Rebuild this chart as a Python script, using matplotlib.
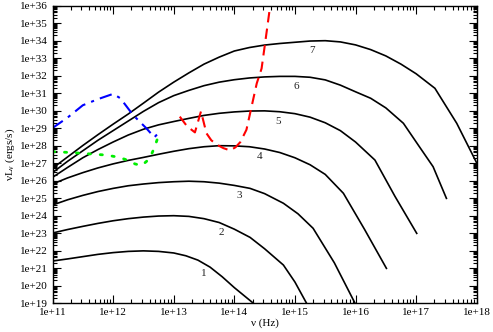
import numpy as np
import matplotlib
matplotlib.use('Agg')
import matplotlib.pyplot as plt
from matplotlib.ticker import FuncFormatter, LogLocator

plt.rcParams['font.family'] = ['Liberation Serif', 'DejaVu Serif']
plt.rcParams['mathtext.fontset'] = 'custom'
plt.rcParams['mathtext.rm'] = 'Liberation Serif'

# log10(nu [Hz]) and log10(nu L_nu [erg/s])
c1_x = [11.0, 11.25, 11.5, 11.75, 12.0, 12.25, 12.5, 12.75, 13.0, 13.2, 13.4, 13.6, 13.8, 14.0, 14.31]
c1_y = [21.4, 21.52, 21.65, 21.78, 21.88, 21.95, 21.98, 21.95, 21.86, 21.7, 21.45, 21.05, 20.5, 19.88, 19.0]
c2_x = [11.0, 11.25, 11.5, 11.75, 12.0, 12.25, 12.5, 12.75, 13.0, 13.25, 13.5, 13.75, 14.0, 14.26, 14.5, 14.81, 15.0, 15.19]
c2_y = [23.0, 23.2, 23.38, 23.55, 23.7, 23.82, 23.91, 23.97, 23.99, 23.95, 23.82, 23.6, 23.22, 22.75, 22.1, 21.17, 20.2, 19.0]
c3_x = [11.0, 11.25, 11.5, 11.75, 12.0, 12.25, 12.5, 12.75, 13.0, 13.25, 13.5, 13.75, 14.0, 14.26, 14.5, 14.81, 15.05, 15.3, 15.65, 15.99]
c3_y = [24.6, 24.9, 25.15, 25.37, 25.55, 25.7, 25.8, 25.88, 25.93, 25.96, 25.93, 25.85, 25.72, 25.55, 25.25, 24.7, 24.1, 23.27, 21.3, 19.0]
c4_x = [11.0, 11.25, 11.5, 11.75, 12.0, 12.25, 12.5, 12.75, 13.0, 13.25, 13.5, 13.75, 14.0, 14.25, 14.5, 14.75, 15.0, 15.25, 15.5, 15.8, 16.15, 16.51]
c4_y = [25.8, 26.15, 26.45, 26.72, 26.95, 27.15, 27.32, 27.5, 27.67, 27.82, 27.93, 27.99, 27.98, 27.93, 27.8, 27.6, 27.3, 26.9, 26.35, 25.27, 23.2, 20.98]
c5_x = [11.0, 11.25, 11.5, 11.75, 12.0, 12.25, 12.5, 12.75, 13.0, 13.25, 13.5, 13.75, 14.0, 14.25, 14.5, 14.75, 15.0, 15.25, 15.5, 15.75, 16.0, 16.32, 16.65, 17.01]
c5_y = [26.18, 26.75, 27.3, 27.77, 28.2, 28.6, 28.93, 29.18, 29.37, 29.55, 29.72, 29.84, 29.92, 29.97, 29.98, 29.93, 29.82, 29.62, 29.3, 28.85, 28.2, 27.17, 25.1, 22.98]
c6_x = [11.0, 11.25, 11.5, 11.75, 12.0, 12.25, 12.5, 12.75, 13.0, 13.25, 13.5, 13.75, 14.0, 14.25, 14.5, 14.75, 15.0, 15.25, 15.5, 15.75, 16.0, 16.25, 16.5, 16.79, 17.05, 17.28, 17.5]
c6_y = [26.45, 27.1, 27.7, 28.3, 28.85, 29.4, 29.95, 30.45, 30.85, 31.15, 31.42, 31.62, 31.76, 31.86, 31.92, 31.95, 31.95, 31.9, 31.75, 31.45, 31.07, 30.7, 30.15, 29.27, 27.95, 26.79, 24.98]
c7_x = [11.0, 11.25, 11.5, 11.75, 12.0, 12.25, 12.5, 12.75, 13.0, 13.25, 13.5, 13.75, 14.0, 14.25, 14.5, 14.75, 15.0, 15.25, 15.5, 15.75, 16.0, 16.25, 16.5, 16.75, 17.0, 17.31, 17.67, 18.0]
c7_y = [26.7, 27.35, 28.0, 28.62, 29.22, 29.8, 30.42, 31.05, 31.62, 32.15, 32.65, 33.05, 33.4, 33.6, 33.74, 33.83, 33.9, 33.97, 33.99, 33.92, 33.75, 33.48, 33.12, 32.65, 32.1, 31.27, 29.27, 27.0]

blue_x = [11.0, 11.25, 11.5, 11.75, 12.0, 12.12, 12.33, 12.55, 12.68, 12.77]
blue_y = [29.0, 29.6, 30.3, 30.65, 30.95, 30.7, 29.74, 28.98, 28.47, 28.79]
green_x = [11.0, 11.3, 11.62, 11.9, 12.1, 12.25, 12.36, 12.47, 12.57, 12.64, 12.69, 12.77]
green_y = [27.65, 27.6, 27.52, 27.45, 27.32, 27.15, 26.95, 26.85, 27.15, 27.55, 27.95, 28.8]
red_x = [13.1, 13.22, 13.35, 13.45, 13.54, 13.62, 13.71, 13.82, 13.93, 14.02, 14.1, 14.2, 14.29, 14.37, 14.45, 14.51, 14.6]
red_y = [29.65, 29.1, 28.75, 29.95, 28.7, 28.3, 28.05, 27.85, 27.72, 27.9, 28.2, 28.9, 30.3, 31.55, 32.4, 33.9, 36.2]

curve_labels = ['1', '2', '3', '4', '5', '6', '7']
label_x = [13.5, 13.78, 14.08, 14.41, 14.73, 15.03, 15.29]
label_y = [20.66, 23.02, 25.17, 27.36, 29.36, 31.4, 33.42]

fig = plt.figure(figsize=(4.93, 3.32), dpi=100)
ax = fig.add_axes([0.1065, 0.0873, 0.8605, 0.8961])

curves = [(c1_x, c1_y), (c2_x, c2_y), (c3_x, c3_y), (c4_x, c4_y),
          (c5_x, c5_y), (c6_x, c6_y), (c7_x, c7_y)]
for cx, cy in curves:
    ax.plot(10**np.array(cx), 10**np.array(cy), color='black', lw=1.2)

ax.plot(10**np.array(blue_x), 10**np.array(blue_y), color='#0000ff', lw=1.5,
        linestyle=(0, (6, 3, 1.5, 3)))
ax.plot(10**np.array(green_x), 10**np.array(green_y), color='#00ee00', lw=2.0,
        linestyle=(0, (0.8, 3.5)), dash_capstyle='round')
ax.plot(10**np.array(red_x), 10**np.array(red_y), color='#ff0000', lw=1.5,
        linestyle=(0, (5, 3)))

for t, lx, ly in zip(curve_labels, label_x, label_y):
    ax.text(10**lx, 10**ly, t, fontsize=8, color='#222222', ha='center', va='center')

ax.set_xscale('log')
ax.set_yscale('log')
ax.set_xlim(1e11, 1e18)
ax.set_ylim(1e19, 1e36)

ax.xaxis.set_major_locator(LogLocator(base=10, numticks=20))
ax.yaxis.set_major_locator(LogLocator(base=10, numticks=40))
ax.xaxis.set_minor_locator(LogLocator(base=10, subs=np.arange(2, 10), numticks=20))
ax.yaxis.set_minor_locator(LogLocator(base=10, subs=np.arange(2, 10), numticks=40))
fmt = FuncFormatter(lambda v, p: '1e+%d' % int(round(np.log10(v))))
ax.xaxis.set_major_formatter(fmt)
ax.yaxis.set_major_formatter(fmt)

ax.tick_params(which='both', direction='in', top=True, right=True, labelsize=8, width=0.8)
ax.tick_params(which='major', length=6)
ax.tick_params(which='minor', length=3)
for s in ax.spines.values():
    s.set_linewidth(1.0)

ax.set_xlabel('ν (Hz)', fontsize=8, labelpad=1)
ax.set_ylabel('νL$_{\\mathregular{ν}}$ (ergs/s)', fontsize=8, labelpad=2)

fig.savefig('out.png', dpi=100)
